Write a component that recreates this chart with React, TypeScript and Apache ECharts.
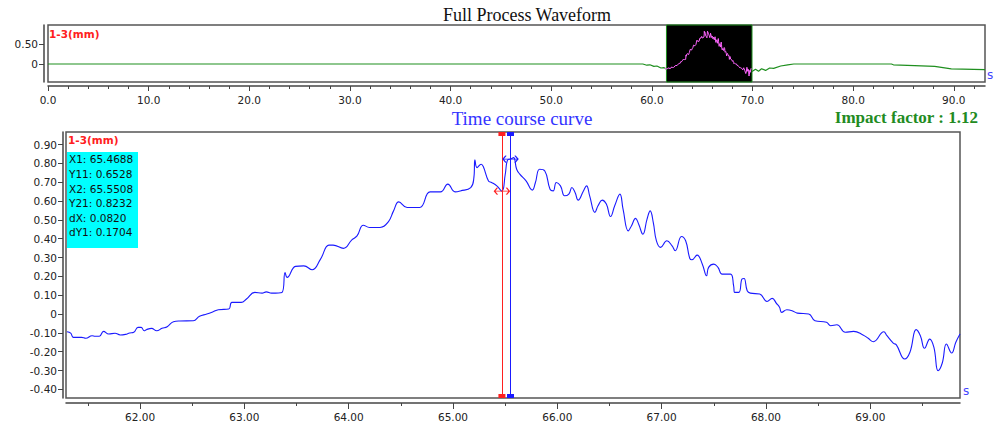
import React, { useEffect, useRef } from "react";
import * as echarts from "echarts";

// ---------- data ----------
const overviewBefore: [number, number][] = [
  [0, 0], [28, 0], [37, 0], [57, 0], [59.1, 0], [59.5, -0.03], [59.8, -0.02],
  [60.2, -0.06], [60.5, -0.05], [60.9, -0.1], [61.2, -0.09], [61.45, -0.13],
];
const overviewAfter: [number, number][] = [
  [69.95, -0.19], [70.3, -0.13], [70.6, -0.18], [70.9, -0.12], [71.3, -0.16],
  [71.7, -0.1], [72.1, -0.11], [72.8, -0.05], [73.5, -0.02], [74.1, 0],
  [83.8, 0], [84.0, -0.02], [86.1, -0.04], [88.1, -0.06], [89.75, -0.12], [93.1, -0.14],
];
const overviewWindow = [61.45, 69.95];

const detailCurve: [number, number][] = [
  [61.30, -0.094], [61.335, -0.101], [61.36, -0.124], [61.44, -0.124], [61.48, -0.129],
  [61.54, -0.115], [61.57, -0.118], [61.61, -0.118], [61.65, -0.092], [61.70, -0.106],
  [61.76, -0.102], [61.81, -0.111], [61.86, -0.108], [61.90, -0.101], [61.94, -0.097],
  [61.98, -0.071], [62.01, -0.071], [62.04, -0.089], [62.06, -0.083], [62.11, -0.076],
  [62.16, -0.089], [62.21, -0.076], [62.26, -0.067], [62.32, -0.041], [62.38, -0.037],
  [62.51, -0.036], [62.57, -0.012], [62.64, 0.0], [62.70, 0.012], [62.75, 0.023],
  [62.85, 0.027], [62.88, 0.062], [62.97, 0.062], [63.02, 0.080], [63.10, 0.115],
  [63.17, 0.111], [63.21, 0.118], [63.26, 0.111], [63.36, 0.115], [63.39, 0.221],
  [63.41, 0.195], [63.49, 0.253], [63.57, 0.256], [63.65, 0.235], [63.73, 0.292],
  [63.81, 0.366], [63.85, 0.366], [63.95, 0.349], [64.03, 0.394], [64.08, 0.415],
  [64.14, 0.472], [64.20, 0.460], [64.30, 0.460], [64.38, 0.490], [64.43, 0.548],
  [64.48, 0.596], [64.56, 0.566], [64.68, 0.566], [64.78, 0.649], [64.88, 0.649],
  [64.95, 0.690], [65.02, 0.649], [65.07, 0.654], [65.17, 0.672], [65.20, 0.725],
  [65.21, 0.819], [65.23, 0.778], [65.27, 0.796], [65.29, 0.784], [65.34, 0.707],
  [65.37, 0.699], [65.42, 0.681], [65.4688, 0.6528], [65.50, 0.74], [65.525, 0.82],
  [65.5508, 0.8232], [65.58, 0.831], [65.61, 0.769], [65.64, 0.743], [65.70, 0.707],
  [65.76, 0.658], [65.79, 0.699], [65.83, 0.769], [65.88, 0.760], [65.93, 0.663],
  [65.96, 0.654], [65.99, 0.699], [66.03, 0.681], [66.07, 0.628], [66.11, 0.637],
  [66.14, 0.672], [66.17, 0.646], [66.20, 0.605], [66.25, 0.654], [66.28, 0.681],
  [66.31, 0.628], [66.36, 0.540], [66.39, 0.575], [66.43, 0.605], [66.47, 0.584],
  [66.51, 0.518], [66.55, 0.575], [66.60, 0.637], [66.63, 0.557], [66.68, 0.442],
  [66.71, 0.468], [66.75, 0.508], [66.78, 0.477], [66.82, 0.424], [66.86, 0.504],
  [66.89, 0.548], [66.92, 0.486], [66.95, 0.389], [66.99, 0.354], [67.05, 0.389],
  [67.10, 0.362], [67.13, 0.336], [67.19, 0.412], [67.23, 0.389], [67.27, 0.295],
  [67.29, 0.288], [67.34, 0.313], [67.39, 0.265], [67.43, 0.203], [67.45, 0.248],
  [67.50, 0.265], [67.54, 0.248], [67.58, 0.212], [67.66, 0.212], [67.69, 0.150],
  [67.70, 0.115], [67.74, 0.115], [67.77, 0.186], [67.79, 0.189], [67.82, 0.124],
  [67.85, 0.111], [67.94, 0.106], [68.01, 0.067], [68.06, 0.083], [68.10, 0.057],
  [68.13, 0.036], [68.15, 0.009], [68.20, 0.023], [68.25, 0.018], [68.30, 0.005],
  [68.41, 0.0], [68.47, -0.036], [68.58, -0.044], [68.62, -0.062], [68.68, -0.057],
  [68.76, -0.097], [68.84, -0.092], [68.93, -0.111], [68.98, -0.129], [69.03, -0.147],
  [69.13, -0.094], [69.16, -0.115], [69.22, -0.154], [69.25, -0.164], [69.33, -0.239],
  [69.38, -0.203], [69.44, -0.083], [69.48, -0.115], [69.52, -0.182], [69.57, -0.133],
  [69.61, -0.177], [69.65, -0.301], [69.69, -0.260], [69.73, -0.159], [69.78, -0.207],
  [69.82, -0.150], [69.86, -0.106],
];

const cursorX1 = 65.4688;
const cursorY11 = 0.6528;
const cursorX2 = 65.5508;
const cursorY21 = 0.8232;
const impactFactor = "1.12";

const overviewMajorTicks = [0, 10, 20, 30, 40, 50, 60, 70, 80, 90];
const overviewMinorTicks = Array.from({ length: 47 }, (_, i) => i * 2).filter((v) => v % 10 !== 0);
const overviewYTicks = [0, 0.5];
const detailMajorTicks = [62, 63, 64, 65, 66, 67, 68, 69];
const detailMinorTicks = [61.5, 62.5, 63.5, 64.5, 65.5, 66.5, 67.5, 68.5, 69.5];
const detailYTicks = [-0.4, -0.3, -0.2, -0.1, 0, 0.1, 0.2, 0.3, 0.4, 0.5, 0.6, 0.7, 0.8, 0.9];

const overviewRange = { xMin: 0, xMax: 93.1, yMin: -0.45, yMax: 0.975 };
const detailRange = { xMin: 61.29, xMax: 69.86, yMin: -0.446, yMax: 0.967 };

// ---------- styles ----------
const AXIS_COLOR = "#444";
const LABEL_FONT = "DejaVu Sans";
const BLUE = "#1a1aff";
const GREEN = "#1f8f1f";
const MAGENTA = "#ff66ff";
const RED = "#ff2020";

const yFmt = (v: number) => (Math.abs(v) < 1e-9 ? "0" : v.toFixed(2));

const arrowPath = "path://M4,0L0,4L4,8M0,4L20,4M16,0L20,4L16,8";

export default function App() {
  const ref = useRef<HTMLDivElement>(null);

  useEffect(() => {
    if (!ref.current) return;
    const chart = echarts.init(ref.current, undefined, { renderer: "svg" });

    const baseLabel = { fontFamily: LABEL_FONT, fontSize: 10.5, color: "#222" };
    const lineStyle = { color: AXIS_COLOR, width: 1.5 };

    const option: any = {
      animation: false,
      backgroundColor: "#ffffff",
      grid: [
        { left: 48, top: 25, width: 937, height: 57, show: true, borderColor: "#555", borderWidth: 1.5, containLabel: false },
        { left: 66, top: 132, width: 894, height: 266, show: true, borderColor: "#555", borderWidth: 1.5, containLabel: false },
      ],
      xAxis: [
        {
          gridIndex: 0, type: "value", position: "bottom", min: overviewRange.xMin, max: overviewRange.xMax, offset: 4,
          axisLine: { show: true, onZero: false, lineStyle },
          axisTick: { show: true, length: 5, customValues: overviewMajorTicks, lineStyle: { color: AXIS_COLOR } },
          axisLabel: { ...baseLabel, margin: 8, customValues: overviewMajorTicks, formatter: (v: number) => v.toFixed(1) },
          splitLine: { show: false },
        },
        {
          gridIndex: 0, type: "value", position: "bottom", min: overviewRange.xMin, max: overviewRange.xMax, offset: 4,
          axisLine: { show: false, onZero: false },
          axisTick: { show: true, length: 3, customValues: overviewMinorTicks, lineStyle: { color: AXIS_COLOR } },
          axisLabel: { show: false },
          splitLine: { show: false },
        },
        {
          gridIndex: 1, type: "value", position: "bottom", min: detailRange.xMin, max: detailRange.xMax, offset: 5,
          axisLine: { show: true, onZero: false, lineStyle },
          axisTick: { show: true, length: 6, customValues: detailMajorTicks, lineStyle: { color: AXIS_COLOR } },
          axisLabel: { ...baseLabel, margin: 8, customValues: detailMajorTicks, formatter: (v: number) => v.toFixed(2) },
          splitLine: { show: false },
        },
        {
          gridIndex: 1, type: "value", position: "bottom", min: detailRange.xMin, max: detailRange.xMax, offset: 5,
          axisLine: { show: false, onZero: false },
          axisTick: { show: true, length: 3, customValues: detailMinorTicks, lineStyle: { color: AXIS_COLOR } },
          axisLabel: { show: false },
          splitLine: { show: false },
        },
      ],
      yAxis: [
        {
          gridIndex: 0, type: "value", position: "left", min: overviewRange.yMin, max: overviewRange.yMax, offset: 4,
          axisLine: { show: true, onZero: false, lineStyle },
          axisTick: { show: true, length: 5, customValues: overviewYTicks, lineStyle: { color: AXIS_COLOR } },
          axisLabel: { ...baseLabel, margin: 6, customValues: overviewYTicks, formatter: yFmt },
          splitLine: { show: false },
        },
        {
          gridIndex: 1, type: "value", position: "left", min: detailRange.yMin, max: detailRange.yMax, offset: 3,
          axisLine: { show: true, onZero: false, lineStyle },
          axisTick: { show: true, length: 5, customValues: detailYTicks, lineStyle: { color: AXIS_COLOR } },
          axisLabel: { ...baseLabel, margin: 6, customValues: detailYTicks, formatter: yFmt },
          splitLine: { show: false },
        },
      ],
      series: [
        {
          type: "line", xAxisIndex: 0, yAxisIndex: 0, data: overviewBefore, showSymbol: false,
          lineStyle: { color: GREEN, width: 1.2 }, silent: true,
          markArea: {
            silent: true,
            itemStyle: { color: "#000", borderColor: GREEN, borderWidth: 1 },
            data: [[{ xAxis: overviewWindow[0] }, { xAxis: overviewWindow[1] }]],
          },
        },
        {
          type: "line", xAxisIndex: 0, yAxisIndex: 0, data: overviewAfter, showSymbol: false,
          lineStyle: { color: GREEN, width: 1.2 }, silent: true,
        },
        {
          type: "line", xAxisIndex: 0, yAxisIndex: 0, data: detailCurve, showSymbol: false, z: 4,
          lineStyle: { color: MAGENTA, width: 1 }, silent: true,
        },
        {
          type: "line", xAxisIndex: 2, yAxisIndex: 1, data: detailCurve, showSymbol: false,
          smooth: 0.45, lineStyle: { color: BLUE, width: 1.1 }, silent: true,
          markLine: {
            silent: true, symbol: "none", label: { show: false },
            data: [
              { xAxis: cursorX1, lineStyle: { color: RED, width: 1, type: "solid" } },
              { xAxis: cursorX2, lineStyle: { color: BLUE, width: 1, type: "solid" } },
            ],
          },
          markPoint: {
            silent: true, label: { show: false },
            data: [
              { coord: [cursorX1, detailRange.yMax], symbol: "rect", symbolSize: [7, 4], symbolOffset: [0, 2], itemStyle: { color: RED } },
              { coord: [cursorX1, detailRange.yMin], symbol: "rect", symbolSize: [7, 4], symbolOffset: [0, -2], itemStyle: { color: RED } },
              { coord: [cursorX2, detailRange.yMax], symbol: "rect", symbolSize: [7, 4], symbolOffset: [0, 2], itemStyle: { color: BLUE } },
              { coord: [cursorX2, detailRange.yMin], symbol: "rect", symbolSize: [7, 4], symbolOffset: [0, -2], itemStyle: { color: BLUE } },
              { coord: [cursorX1, cursorY11], symbol: arrowPath, symbolSize: [15, 7], itemStyle: { color: "none", borderColor: RED, borderWidth: 1 } },
              { coord: [cursorX2, cursorY21], symbol: arrowPath, symbolSize: [15, 7], itemStyle: { color: "none", borderColor: BLUE, borderWidth: 1 } },
            ],
          },
        },
      ],
      graphic: [
        { type: "text", x: 527, y: 15, style: { text: "Full Process Waveform", font: '18px "Liberation Serif"', fill: "#111", align: "center", verticalAlign: "middle", textAlign: "center", textVerticalAlign: "middle" } },
        { type: "text", x: 522, y: 118, style: { text: "Time course curve", font: '19px "Liberation Serif"', fill: "#3333ff", align: "center", verticalAlign: "middle", textAlign: "center", textVerticalAlign: "middle" } },
        { type: "text", x: 978, y: 117, style: { text: "Impact factor : " + impactFactor, font: 'bold 17px "Liberation Serif"', fill: "#228b22", align: "right", verticalAlign: "middle", textAlign: "right", textVerticalAlign: "middle" } },
        { type: "text", x: 49, y: 34, style: { text: "1-3(mm)", font: 'bold 10.5px "DejaVu Sans"', fill: RED, align: "left", verticalAlign: "middle", textAlign: "left", textVerticalAlign: "middle" } },
        { type: "text", x: 68, y: 140, style: { text: "1-3(mm)", font: 'bold 10.5px "DejaVu Sans"', fill: RED, align: "left", verticalAlign: "middle", textAlign: "left", textVerticalAlign: "middle" } },
        { type: "text", x: 987, y: 75, style: { text: "s", font: '12px "DejaVu Sans"', fill: "#4444ff", align: "left", verticalAlign: "middle", textAlign: "left", textVerticalAlign: "middle" } },
        { type: "text", x: 963, y: 391, style: { text: "s", font: '12px "DejaVu Sans"', fill: "#4444ff", align: "left", verticalAlign: "middle", textAlign: "left", textVerticalAlign: "middle" } },
        { type: "rect", shape: { x: 67, y: 152, width: 71, height: 96 }, style: { fill: "#00ffff" }, z: 10 },
        {
          type: "text", x: 69, y: 152, z: 11,
          style: {
            text: [
              "X1: " + cursorX1.toFixed(4),
              "Y11: " + cursorY11.toFixed(4),
              "X2: " + cursorX2.toFixed(4),
              "Y21: " + cursorY21.toFixed(4),
              "dX: " + (cursorX2 - cursorX1).toFixed(4),
              "dY1: " + (cursorY21 - cursorY11).toFixed(4),
            ].join("\n"),
            font: '10.5px "DejaVu Sans"', fill: "#111", lineHeight: 14.6,
            align: "left", verticalAlign: "top", textAlign: "left", textVerticalAlign: "top",
          },
        },
      ],
    };

    chart.setOption(option);
    return () => chart.dispose();
  }, []);

  return (
    <div
      ref={ref}
      style={{ position: "absolute", left: 0, top: 0, width: 994, height: 425, background: "#fff" }}
    />
  );
}
